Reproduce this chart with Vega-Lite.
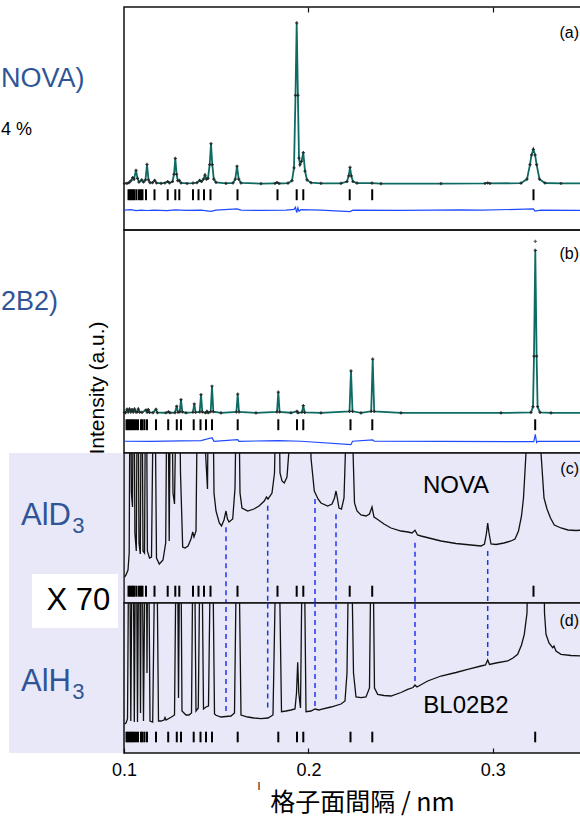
{
  "$schema": "https://vega.github.io/schema/vega-lite/v6.json",
  "padding": {"left": 0, "top": 5, "right": 0, "bottom": 0},
  "spacing": 0,
  "bounds": "flush",
  "config": {
    "view": {"stroke": "#111111", "strokeWidth": 1.5},
    "text": {"font": "Liberation Sans"},
    "scale": {"zero": false},
    "axisX": {"tickSize": -5, "tickWidth": 1.2, "tickColor": "#111111", "domain": false, "grid": false, "labelFlush": false, "labelFont": "Liberation Sans", "labelFontSize": 18, "labelColor": "#000000", "labelPadding": 13, "titleFont": "Noto Sans CJK JP", "titleFontSize": 25, "titleFontWeight": "normal", "titleColor": "#000000"}
  },
  "resolve": {"scale": {"x": "independent", "y": "independent"}},
  "datasets": {
    "ticksD": [{"d":0.10244},{"d":0.10325},{"d":0.10407},{"d":0.10488},{"d":0.10569},{"d":0.10678},{"d":0.10813},{"d":0.10922},{"d":0.11003},{"d":0.11193},{"d":0.11654},{"d":0.1237},{"d":0.12782},{"d":0.12999},{"d":0.13742},{"d":0.1404},{"d":0.14338},{"d":0.14691},{"d":0.16155},{"d":0.18324},{"d":0.19365},{"d":0.19723},{"d":0.2224},{"d":0.2346},{"d":0.32207}],
    "ticksH": [{"d":0.10136},{"d":0.10217},{"d":0.10298},{"d":0.1038},{"d":0.10461},{"d":0.10542},{"d":0.10651},{"d":0.10759},{"d":0.10922},{"d":0.11003},{"d":0.11112},{"d":0.11247},{"d":0.11735},{"d":0.12397},{"d":0.12863},{"d":0.13091},{"d":0.1378},{"d":0.14149},{"d":0.14447},{"d":0.14772},{"d":0.16166},{"d":0.18368},{"d":0.19382},{"d":0.19723},{"d":0.22283},{"d":0.23465},{"d":0.32299}],
    "a": [{"d":0.10027,"v":0.3},{"d":0.10163,"v":0.4},{"d":0.10271,"v":0.8},{"d":0.1038,"v":2},{"d":0.10472,"v":4},{"d":0.10542,"v":3},{"d":0.10651,"v":8.5},{"d":0.10732,"v":3.5},{"d":0.10813,"v":1.2},{"d":0.1096,"v":2.5},{"d":0.11057,"v":1.2},{"d":0.11166,"v":2.5},{"d":0.11247,"v":12.2},{"d":0.11329,"v":2.5},{"d":0.1141,"v":0.8},{"d":0.11546,"v":0.8},{"d":0.11665,"v":2.2},{"d":0.11762,"v":0.6},{"d":0.12007,"v":0.4},{"d":0.12223,"v":0.6},{"d":0.1237,"v":1.5},{"d":0.12467,"v":0.6},{"d":0.1263,"v":1.5},{"d":0.12712,"v":6},{"d":0.12782,"v":15.9},{"d":0.12852,"v":6},{"d":0.12918,"v":2},{"d":0.12999,"v":2.2},{"d":0.13091,"v":0.6},{"d":0.13416,"v":0.3},{"d":0.13742,"v":0.5},{"d":0.13959,"v":0.8},{"d":0.14105,"v":2.2},{"d":0.14203,"v":1.5},{"d":0.14311,"v":3},{"d":0.14393,"v":5.5},{"d":0.14474,"v":3},{"d":0.14555,"v":3.5},{"d":0.14647,"v":12},{"d":0.14718,"v":25},{"d":0.14788,"v":12},{"d":0.1487,"v":3},{"d":0.14989,"v":1},{"d":0.15531,"v":0.4},{"d":0.15911,"v":0.6},{"d":0.16036,"v":3},{"d":0.16128,"v":11},{"d":0.1622,"v":3},{"d":0.16345,"v":0.6},{"d":0.17429,"v":0.2},{"d":0.18189,"v":0.3},{"d":0.18297,"v":0.9},{"d":0.18406,"v":0.3},{"d":0.18894,"v":0.5},{"d":0.19111,"v":2},{"d":0.19219,"v":10},{"d":0.193,"v":55},{"d":0.19365,"v":100},{"d":0.19431,"v":55},{"d":0.1949,"v":16},{"d":0.19544,"v":12},{"d":0.19626,"v":14},{"d":0.19723,"v":19.5},{"d":0.19816,"v":8},{"d":0.19924,"v":2.5},{"d":0.20141,"v":0.8},{"d":0.20683,"v":0.4},{"d":0.21768,"v":0.4},{"d":0.22093,"v":1.5},{"d":0.22185,"v":5},{"d":0.22256,"v":10.3},{"d":0.22327,"v":5},{"d":0.22419,"v":1.5},{"d":0.22636,"v":0.5},{"d":0.23449,"v":0.5},{"d":0.23937,"v":0.2},{"d":0.27191,"v":0.2},{"d":0.29577,"v":0.3},{"d":0.29723,"v":0.6},{"d":0.29848,"v":0.3},{"d":0.31529,"v":0.5},{"d":0.31855,"v":3},{"d":0.32017,"v":12},{"d":0.32099,"v":18},{"d":0.32197,"v":21.5},{"d":0.32294,"v":18},{"d":0.32376,"v":12},{"d":0.32533,"v":3},{"d":0.32831,"v":0.6},{"d":0.33698,"v":0.3},{"d":0.34946,"v":0.3}],
    "ares": [{"d":0.10027,"v":-16.3},{"d":0.1038,"v":-16.0},{"d":0.10651,"v":-16.6},{"d":0.10922,"v":-16.2},{"d":0.11247,"v":-16.5},{"d":0.11627,"v":-16.3},{"d":0.12332,"v":-16.6},{"d":0.12766,"v":-16.1},{"d":0.13362,"v":-16.4},{"d":0.14176,"v":-16.3},{"d":0.14718,"v":-17.0},{"d":0.14989,"v":-16.3},{"d":0.16128,"v":-15.5},{"d":0.16345,"v":-16.3},{"d":0.17429,"v":-16.4},{"d":0.18785,"v":-16.3},{"d":0.19219,"v":-15.8},{"d":0.193,"v":-14.5},{"d":0.19365,"v":-17.8},{"d":0.19431,"v":-14.8},{"d":0.1949,"v":-17},{"d":0.19599,"v":-16},{"d":0.20683,"v":-16.3},{"d":0.22256,"v":-17.2},{"d":0.22419,"v":-16.3},{"d":0.25022,"v":-16.4},{"d":0.28275,"v":-16.1},{"d":0.2936,"v":-16.3},{"d":0.32197,"v":-15.5},{"d":0.32294,"v":-16.8},{"d":0.32614,"v":-16.3},{"d":0.34946,"v":-16.4}],
    "b": [{"d":0.10027,"v":0.5},{"d":0.10081,"v":0.4},{"d":0.10163,"v":2.4},{"d":0.10228,"v":0.8},{"d":0.10298,"v":2.6},{"d":0.10369,"v":0.8},{"d":0.10434,"v":2.2},{"d":0.10499,"v":0.8},{"d":0.10569,"v":2.6},{"d":0.1064,"v":0.8},{"d":0.10705,"v":0.7},{"d":0.10775,"v":2.6},{"d":0.10846,"v":0.7},{"d":0.10976,"v":0.5},{"d":0.11193,"v":2.0},{"d":0.11253,"v":0.7},{"d":0.11318,"v":2.2},{"d":0.11383,"v":0.5},{"d":0.11573,"v":0.4},{"d":0.11735,"v":2.4},{"d":0.11806,"v":0.4},{"d":0.12278,"v":0.3},{"d":0.12413,"v":0.9},{"d":0.12495,"v":0.3},{"d":0.12766,"v":0.4},{"d":0.12858,"v":4.3},{"d":0.12928,"v":0.6},{"d":0.13021,"v":0.8},{"d":0.13091,"v":8.4},{"d":0.13162,"v":0.8},{"d":0.13362,"v":0.3},{"d":0.13736,"v":0.6},{"d":0.13812,"v":5.7},{"d":0.13883,"v":0.6},{"d":0.14105,"v":0.8},{"d":0.14176,"v":11.5},{"d":0.14246,"v":0.8},{"d":0.1442,"v":0.3},{"d":0.14501,"v":1.2},{"d":0.14566,"v":0.3},{"d":0.14702,"v":1},{"d":0.14772,"v":16.6},{"d":0.14843,"v":1},{"d":0.1526,"v":0.2},{"d":0.16095,"v":0.8},{"d":0.16166,"v":11.8},{"d":0.16236,"v":0.8},{"d":0.17158,"v":0.2},{"d":0.18297,"v":0.8},{"d":0.18368,"v":13},{"d":0.18438,"v":0.8},{"d":0.19056,"v":0.3},{"d":0.19382,"v":1.2},{"d":0.19436,"v":0.3},{"d":0.19653,"v":0.6},{"d":0.19723,"v":4.7},{"d":0.19794,"v":0.5},{"d":0.20683,"v":0.2},{"d":0.22229,"v":1.2},{"d":0.2231,"v":26},{"d":0.22392,"v":1.2},{"d":0.22852,"v":0.2},{"d":0.23406,"v":1.2},{"d":0.23487,"v":33.3},{"d":0.23568,"v":1.2},{"d":0.25022,"v":0.2},{"d":0.30445,"v":0.2},{"d":0.32072,"v":0.5},{"d":0.3218,"v":4},{"d":0.32234,"v":35},{"d":0.32305,"v":100},{"d":0.32376,"v":35},{"d":0.3243,"v":4},{"d":0.3256,"v":0.5},{"d":0.33156,"v":0.2},{"d":0.34946,"v":0.2}],
    "bobs": [{"d":0.32305,"v":105.5}],
    "bres": [{"d":0.10027,"v":-17.2},{"d":0.11464,"v":-17.3},{"d":0.13091,"v":-17.0},{"d":0.14176,"v":-16.8},{"d":0.14772,"v":-15.0},{"d":0.14881,"v":-17.2},{"d":0.16166,"v":-16.2},{"d":0.16236,"v":-17.2},{"d":0.18368,"v":-16.8},{"d":0.19599,"v":-17.2},{"d":0.2231,"v":-19.3},{"d":0.22392,"v":-17.2},{"d":0.23487,"v":-16.3},{"d":0.23568,"v":-17.2},{"d":0.27191,"v":-17.3},{"d":0.32224,"v":-17.4},{"d":0.32305,"v":-13},{"d":0.32376,"v":-18},{"d":0.32451,"v":-17.2},{"d":0.34946,"v":-17.3}],
    "c": [{"d":0.10027,"v":26},{"d":0.10108,"v":28},{"d":0.10217,"v":33},{"d":0.10282,"v":50},{"d":0.10342,"v":300},{"d":0.10401,"v":110},{"d":0.10461,"v":96},{"d":0.10526,"v":300},{"d":0.10591,"v":70},{"d":0.10667,"v":52},{"d":0.10743,"v":300},{"d":0.10813,"v":60},{"d":0.10884,"v":49},{"d":0.1096,"v":300},{"d":0.1103,"v":52},{"d":0.11112,"v":50},{"d":0.11193,"v":300},{"d":0.11269,"v":52},{"d":0.11383,"v":45},{"d":0.11491,"v":46},{"d":0.11643,"v":300},{"d":0.11762,"v":45},{"d":0.11914,"v":39},{"d":0.12115,"v":43},{"d":0.12261,"v":60},{"d":0.12359,"v":300},{"d":0.12451,"v":62},{"d":0.12549,"v":300},{"d":0.12657,"v":110},{"d":0.12739,"v":99},{"d":0.1282,"v":200},{"d":0.12956,"v":300},{"d":0.13064,"v":130},{"d":0.13183,"v":56},{"d":0.13308,"v":55},{"d":0.13471,"v":57},{"d":0.13633,"v":64},{"d":0.13726,"v":71},{"d":0.13796,"v":66},{"d":0.13905,"v":72},{"d":0.14029,"v":300},{"d":0.14105,"v":150},{"d":0.14187,"v":300},{"d":0.14393,"v":160},{"d":0.14528,"v":114},{"d":0.1461,"v":300},{"d":0.14772,"v":300},{"d":0.14881,"v":110},{"d":0.14989,"v":92},{"d":0.15168,"v":80},{"d":0.15287,"v":77},{"d":0.15423,"v":83},{"d":0.15531,"v":92},{"d":0.15613,"v":84},{"d":0.15694,"v":81},{"d":0.15895,"v":84},{"d":0.1602,"v":115},{"d":0.16166,"v":300},{"d":0.16291,"v":110},{"d":0.16399,"v":95},{"d":0.16708,"v":92},{"d":0.1705,"v":94},{"d":0.17321,"v":97},{"d":0.17608,"v":102},{"d":0.17728,"v":106},{"d":0.17809,"v":104},{"d":0.18026,"v":110},{"d":0.18162,"v":130},{"d":0.18335,"v":300},{"d":0.1846,"v":130},{"d":0.18568,"v":122},{"d":0.18693,"v":120},{"d":0.18839,"v":126},{"d":0.18975,"v":160},{"d":0.19111,"v":300},{"d":0.20033,"v":300},{"d":0.20141,"v":145},{"d":0.2032,"v":112},{"d":0.20521,"v":104},{"d":0.20683,"v":100},{"d":0.21047,"v":97},{"d":0.2128,"v":99},{"d":0.21415,"v":105},{"d":0.21497,"v":112},{"d":0.21578,"v":104},{"d":0.21659,"v":95},{"d":0.21795,"v":94},{"d":0.21931,"v":105},{"d":0.22039,"v":170},{"d":0.22229,"v":300},{"d":0.22392,"v":170},{"d":0.225,"v":100},{"d":0.22636,"v":92},{"d":0.22852,"v":88},{"d":0.23124,"v":87},{"d":0.23313,"v":89},{"d":0.23449,"v":96},{"d":0.23557,"v":86},{"d":0.2372,"v":84},{"d":0.241,"v":79},{"d":0.24479,"v":75},{"d":0.25022,"v":72},{"d":0.25401,"v":71},{"d":0.25618,"v":70},{"d":0.25781,"v":72.7},{"d":0.25916,"v":68},{"d":0.26106,"v":67},{"d":0.26649,"v":64.5},{"d":0.27191,"v":62},{"d":0.28004,"v":59.5},{"d":0.28818,"v":58},{"d":0.2936,"v":57},{"d":0.2955,"v":59},{"d":0.29658,"v":70},{"d":0.29723,"v":80},{"d":0.29794,"v":70},{"d":0.29902,"v":59},{"d":0.30174,"v":58.5},{"d":0.30607,"v":60},{"d":0.30987,"v":62},{"d":0.31204,"v":64},{"d":0.31394,"v":72},{"d":0.31557,"v":87},{"d":0.31665,"v":105},{"d":0.318,"v":150},{"d":0.31963,"v":300},{"d":0.32424,"v":300},{"d":0.32614,"v":150},{"d":0.32777,"v":105},{"d":0.32939,"v":94},{"d":0.33129,"v":85},{"d":0.33335,"v":78},{"d":0.33698,"v":75},{"d":0.34078,"v":73},{"d":0.34512,"v":72.5},{"d":0.34946,"v":73}],
    "dcurve": [{"d":0.10027,"v":29},{"d":0.10108,"v":30},{"d":0.1019,"v":34},{"d":0.10287,"v":300},{"d":0.10369,"v":32},{"d":0.10472,"v":300},{"d":0.10559,"v":31},{"d":0.10651,"v":300},{"d":0.10732,"v":31},{"d":0.1083,"v":300},{"d":0.10895,"v":40},{"d":0.1096,"v":300},{"d":0.11057,"v":32},{"d":0.11193,"v":300},{"d":0.11247,"v":80},{"d":0.11302,"v":300},{"d":0.1141,"v":32},{"d":0.11556,"v":31},{"d":0.11735,"v":300},{"d":0.11871,"v":32},{"d":0.12007,"v":32},{"d":0.12169,"v":33},{"d":0.12223,"v":35.5},{"d":0.12278,"v":33},{"d":0.12549,"v":35.7},{"d":0.12739,"v":38},{"d":0.12874,"v":300},{"d":0.12956,"v":55},{"d":0.13053,"v":300},{"d":0.13145,"v":42},{"d":0.13362,"v":38},{"d":0.13525,"v":38},{"d":0.13661,"v":40},{"d":0.1378,"v":300},{"d":0.13905,"v":42},{"d":0.14029,"v":45},{"d":0.14176,"v":300},{"d":0.14311,"v":44},{"d":0.14447,"v":46},{"d":0.14582,"v":47},{"d":0.14756,"v":300},{"d":0.14908,"v":39},{"d":0.14989,"v":37.7},{"d":0.1526,"v":36},{"d":0.15531,"v":36.5},{"d":0.15803,"v":37},{"d":0.15992,"v":40},{"d":0.16166,"v":300},{"d":0.16345,"v":38},{"d":0.16708,"v":36},{"d":0.1705,"v":35},{"d":0.17429,"v":34.3},{"d":0.17809,"v":35},{"d":0.1808,"v":38},{"d":0.18335,"v":300},{"d":0.18541,"v":41.3},{"d":0.18785,"v":42},{"d":0.19056,"v":43},{"d":0.19273,"v":44},{"d":0.19355,"v":60},{"d":0.1942,"v":90.7},{"d":0.19479,"v":60},{"d":0.19571,"v":45},{"d":0.19723,"v":300},{"d":0.1987,"v":41.3},{"d":0.20141,"v":42},{"d":0.20358,"v":44},{"d":0.20575,"v":43},{"d":0.20683,"v":43.7},{"d":0.21226,"v":46},{"d":0.21768,"v":49},{"d":0.21985,"v":52},{"d":0.22093,"v":80},{"d":0.22256,"v":300},{"d":0.22446,"v":80},{"d":0.22581,"v":56},{"d":0.22852,"v":55.3},{"d":0.23124,"v":56},{"d":0.23313,"v":65},{"d":0.23449,"v":300},{"d":0.23584,"v":65},{"d":0.23758,"v":58.7},{"d":0.241,"v":57.5},{"d":0.24479,"v":57},{"d":0.25022,"v":60.5},{"d":0.25385,"v":63.7},{"d":0.25672,"v":65.5},{"d":0.25781,"v":68},{"d":0.25889,"v":66},{"d":0.2647,"v":72},{"d":0.27191,"v":77},{"d":0.28004,"v":80.5},{"d":0.28639,"v":83.7},{"d":0.2936,"v":87},{"d":0.29604,"v":88},{"d":0.29723,"v":93},{"d":0.29821,"v":88.5},{"d":0.30174,"v":90},{"d":0.30808,"v":92},{"d":0.31095,"v":95},{"d":0.3135,"v":98.7},{"d":0.31557,"v":108},{"d":0.31708,"v":118.7},{"d":0.31855,"v":140},{"d":0.31979,"v":300},{"d":0.32706,"v":300},{"d":0.32804,"v":140},{"d":0.32885,"v":118.7},{"d":0.33048,"v":110},{"d":0.33248,"v":105.3},{"d":0.33319,"v":107},{"d":0.33427,"v":102},{"d":0.33698,"v":98.7},{"d":0.34241,"v":97.5},{"d":0.34946,"v":97}],
    "dash": [{"d":0.15531,"ct":75.7,"db":42},{"d":0.17793,"ct":97.3,"db":45.5},{"d":0.20358,"ct":104,"db":47},{"d":0.21497,"ct":88.7,"db":53.7},{"d":0.25781,"ct":60.3,"db":72},{"d":0.29723,"ct":52,"db":97}]
  },
  "vconcat": [
    {
      "width": 460, "height": 223,
      "layer": [
        {"data": {"name": "ticksD"}, "mark": {"type": "rule", "color": "#000000", "strokeWidth": 2},
         "encoding": {"x": {"field": "d", "type": "quantitative", "scale": {"domain": [0.1, 0.34946], "nice": false}, "axis": {"orient": "top", "values": [0.2, 0.3], "labels": false, "title": null}},
                      "y": {"datum": -3.3, "scale": {"domain": [-28.6, 109.9], "nice": false}, "axis": null}, "y2": {"datum": -10.1}}},
        {"data": {"name": "ares"}, "mark": {"type": "line", "color": "#1f4bff", "strokeWidth": 1.2},
         "encoding": {"x": {"field": "d", "type": "quantitative", "scale": {"domain": [0.1, 0.34946], "nice": false}, "axis": {"orient": "top", "values": [0.2, 0.3], "labels": false, "title": null}}, "y": {"field": "v", "type": "quantitative", "scale": {"domain": [-28.6, 109.9], "nice": false}, "axis": null}}},
        {"data": {"name": "a"}, "mark": {"type": "line", "color": "#0d6b63", "strokeWidth": 1.8},
         "encoding": {"x": {"field": "d", "type": "quantitative", "scale": {"domain": [0.1, 0.34946], "nice": false}, "axis": {"orient": "top", "values": [0.2, 0.3], "labels": false, "title": null}}, "y": {"field": "v", "type": "quantitative", "scale": {"domain": [-28.6, 109.9], "nice": false}, "axis": null}}},
        {"data": {"name": "a"}, "mark": {"type": "point", "shape": "cross", "filled": true, "size": 10, "color": "#222222", "opacity": 0.9},
         "encoding": {"x": {"field": "d", "type": "quantitative", "scale": {"domain": [0.1, 0.34946], "nice": false}, "axis": {"orient": "top", "values": [0.2, 0.3], "labels": false, "title": null}}, "y": {"field": "v", "type": "quantitative", "scale": {"domain": [-28.6, 109.9], "nice": false}, "axis": null}}},
        {"data": {"values": [{}]}, "mark": {"type": "text", "text": "NOVA)", "align": "left", "baseline": "middle", "fontSize": 27, "color": "#2f5597"},
         "encoding": {"x": {"datum": 0.0333, "axis": {"orient": "top", "values": [0.2, 0.3], "labels": false, "title": null}}, "y": {"datum": 65.2, "axis": null}}},
        {"data": {"values": [{}]}, "mark": {"type": "text", "text": "4 %", "align": "left", "baseline": "middle", "fontSize": 18, "color": "#000000"},
         "encoding": {"x": {"datum": 0.0333, "axis": {"orient": "top", "values": [0.2, 0.3], "labels": false, "title": null}}, "y": {"datum": 33.5, "axis": null}}},
        {"data": {"values": [{}]}, "mark": {"type": "text", "text": "(a)", "align": "right", "baseline": "middle", "fontSize": 16, "color": "#000000"},
         "encoding": {"x": {"datum": 0.34675, "axis": {"orient": "top", "values": [0.2, 0.3], "labels": false, "title": null}}, "y": {"datum": 93.8, "axis": null}}}
      ]
    },
    {
      "width": 460, "height": 223,
      "layer": [
        {"data": {"name": "ticksH"}, "mark": {"type": "rule", "color": "#000000", "strokeWidth": 2},
         "encoding": {"x": {"field": "d", "type": "quantitative", "scale": {"domain": [0.1, 0.34946], "nice": false}, "axis": null},
                      "y": {"datum": -3.7, "scale": {"domain": [-24.4, 112.5], "nice": false}, "axis": null}, "y2": {"datum": -10.4}}},
        {"data": {"name": "bres"}, "mark": {"type": "line", "color": "#1f4bff", "strokeWidth": 1.2},
         "encoding": {"x": {"field": "d", "type": "quantitative", "scale": {"domain": [0.1, 0.34946], "nice": false}, "axis": null}, "y": {"field": "v", "type": "quantitative", "scale": {"domain": [-24.4, 112.5], "nice": false}, "axis": null}}},
        {"data": {"name": "b"}, "mark": {"type": "line", "color": "#0d6b63", "strokeWidth": 1.8},
         "encoding": {"x": {"field": "d", "type": "quantitative", "scale": {"domain": [0.1, 0.34946], "nice": false}, "axis": null}, "y": {"field": "v", "type": "quantitative", "scale": {"domain": [-24.4, 112.5], "nice": false}, "axis": null}}},
        {"data": {"name": "b"}, "mark": {"type": "point", "shape": "cross", "filled": true, "size": 10, "color": "#222222", "opacity": 0.9},
         "encoding": {"x": {"field": "d", "type": "quantitative", "scale": {"domain": [0.1, 0.34946], "nice": false}, "axis": null}, "y": {"field": "v", "type": "quantitative", "scale": {"domain": [-24.4, 112.5], "nice": false}, "axis": null}}},
        {"data": {"name": "bobs"}, "mark": {"type": "point", "shape": "cross", "filled": true, "size": 10, "color": "#222222"},
         "encoding": {"x": {"field": "d", "type": "quantitative", "scale": {"domain": [0.1, 0.34946], "nice": false}, "axis": null}, "y": {"field": "v", "type": "quantitative", "scale": {"domain": [-24.4, 112.5], "nice": false}, "axis": null}}},
        {"data": {"values": [{}]}, "mark": {"type": "text", "text": "2B2)", "align": "left", "baseline": "middle", "fontSize": 27, "color": "#2f5597"},
         "encoding": {"x": {"datum": 0.0333, "axis": null}, "y": {"datum": 68.3, "axis": null}}},
        {"data": {"values": [{}]}, "mark": {"type": "text", "text": "(b)", "align": "right", "baseline": "middle", "fontSize": 16, "color": "#000000"},
         "encoding": {"x": {"datum": 0.34675, "axis": null}, "y": {"datum": 97.7, "axis": null}}},
        {"data": {"values": [{}]}, "mark": {"type": "text", "text": "Intensity (a.u.)", "angle": 270, "align": "center", "baseline": "middle", "fontSize": 21, "color": "#000000"},
         "encoding": {"x": {"datum": 0.0859, "axis": null}, "y": {"datum": 15.5, "axis": null}}}
      ]
    },
    {
      "width": 460, "height": 150,
      "view": {"fill": "#e8e8f8", "stroke": "#111111", "strokeWidth": 1.5},
      "layer": [
        {"data": {"values": [{}]}, "mark": {"type": "rect", "color": "#e8e8f8"},
         "encoding": {"x": {"datum": 0.03764, "scale": {"domain": [0.1, 0.34946], "nice": false}, "axis": null}, "x2": {"datum": 0.09957},
                      "y": {"datum": 150, "scale": {"domain": [0, 150], "nice": false}, "axis": null}, "y2": {"datum": -150}}},
        {"data": {"name": "ticksD"}, "mark": {"type": "rule", "color": "#000000", "strokeWidth": 2},
         "encoding": {"x": {"field": "d", "type": "quantitative", "scale": {"domain": [0.1, 0.34946], "nice": false}, "axis": null}, "y": {"datum": 17.3, "axis": null}, "y2": {"datum": 6.3}}},
        {"data": {"name": "dash"}, "mark": {"type": "rule", "color": "#2233ee", "strokeWidth": 1.5, "strokeDash": [5, 4]},
         "encoding": {"x": {"field": "d", "type": "quantitative", "scale": {"domain": [0.1, 0.34946], "nice": false}, "axis": null}, "y": {"field": "ct", "type": "quantitative", "scale": {"domain": [0, 150], "nice": false}, "axis": null}, "y2": {"datum": 0}}},
        {"data": {"name": "c"}, "mark": {"type": "line", "color": "#111111", "strokeWidth": 1.3, "clip": true},
         "encoding": {"x": {"field": "d", "type": "quantitative", "scale": {"domain": [0.1, 0.34946], "nice": false}, "axis": null}, "y": {"field": "v", "type": "quantitative", "scale": {"domain": [0, 150], "nice": false}, "axis": null}}},
        {"data": {"values": [{}]}, "mark": {"type": "text", "text": "AlD", "align": "left", "baseline": "alphabetic", "fontSize": 31, "color": "#2f5597"},
         "encoding": {"x": {"datum": 0.04414, "axis": null}, "y": {"datum": 78, "axis": null}}},
        {"data": {"values": [{}]}, "mark": {"type": "text", "text": "3", "align": "left", "baseline": "alphabetic", "fontSize": 22, "color": "#2f5597"},
         "encoding": {"x": {"datum": 0.07198, "axis": null}, "y": {"datum": 70.3, "axis": null}}},
        {"data": {"values": [{}]}, "mark": {"type": "text", "text": "NOVA", "align": "center", "baseline": "middle", "fontSize": 24, "color": "#000000"},
         "encoding": {"x": {"datum": 0.28004, "axis": null}, "y": {"datum": 117, "axis": null}}},
        {"data": {"values": [{}]}, "mark": {"type": "text", "text": "(c)", "align": "right", "baseline": "middle", "fontSize": 16, "color": "#000000"},
         "encoding": {"x": {"datum": 0.34675, "axis": null}, "y": {"datum": 134, "axis": null}}}
      ]
    },
    {
      "width": 460, "height": 150,
      "view": {"fill": "#e8e8f8", "stroke": "#111111", "strokeWidth": 1.5},
      "layer": [
        {"data": {"values": [{}]}, "mark": {"type": "rect", "color": "#ffffff"},
         "encoding": {"x": {"datum": 0.05011, "scale": {"domain": [0.1, 0.34946], "nice": false}, "axis": {"values": [0.1, 0.2, 0.3], "format": ".1f", "title": "格子面間隔 / nm", "titleX": 238, "titleY": 49, "titleAlign": "center", "titleBaseline": "middle"}}, "x2": {"datum": 0.09675},
                      "y": {"datum": 179, "scale": {"domain": [0, 150], "nice": false}, "axis": null}, "y2": {"datum": 125}}},
        {"data": {"values": [{}]}, "mark": {"type": "text", "text": "X 70", "align": "center", "baseline": "middle", "fontSize": 31, "color": "#000000"},
         "encoding": {"x": {"datum": 0.0753, "axis": {"values": [0.1, 0.2, 0.3], "format": ".1f", "title": "格子面間隔 / nm", "titleX": 238, "titleY": 49, "titleAlign": "center", "titleBaseline": "middle"}}, "y": {"datum": 152, "axis": null}}},
        {"data": {"name": "ticksH"}, "mark": {"type": "rule", "color": "#000000", "strokeWidth": 2},
         "encoding": {"x": {"field": "d", "type": "quantitative", "scale": {"domain": [0.1, 0.34946], "nice": false}, "axis": {"values": [0.1, 0.2, 0.3], "format": ".1f", "title": "格子面間隔 / nm", "titleX": 238, "titleY": 49, "titleAlign": "center", "titleBaseline": "middle"}},
                      "y": {"datum": 21.3, "axis": null}, "y2": {"datum": 10.7}}},
        {"data": {"name": "dash"}, "mark": {"type": "rule", "color": "#2233ee", "strokeWidth": 1.5, "strokeDash": [5, 4]},
         "encoding": {"x": {"field": "d", "type": "quantitative", "scale": {"domain": [0.1, 0.34946], "nice": false}, "axis": {"values": [0.1, 0.2, 0.3], "format": ".1f", "title": "格子面間隔 / nm", "titleX": 238, "titleY": 49, "titleAlign": "center", "titleBaseline": "middle"}}, "y": {"field": "db", "type": "quantitative", "scale": {"domain": [0, 150], "nice": false}, "axis": null}, "y2": {"datum": 150}}},
        {"data": {"name": "dcurve"}, "mark": {"type": "line", "color": "#111111", "strokeWidth": 1.3, "clip": true},
         "encoding": {"x": {"field": "d", "type": "quantitative", "scale": {"domain": [0.1, 0.34946], "nice": false}, "axis": {"values": [0.1, 0.2, 0.3], "format": ".1f", "title": "格子面間隔 / nm", "titleX": 238, "titleY": 49, "titleAlign": "center", "titleBaseline": "middle"}}, "y": {"field": "v", "type": "quantitative", "scale": {"domain": [0, 150], "nice": false}, "axis": null}}},
        {"data": {"values": [{}]}, "mark": {"type": "text", "text": "AlH", "align": "left", "baseline": "alphabetic", "fontSize": 31, "color": "#2f5597"},
         "encoding": {"x": {"datum": 0.04414, "axis": {"values": [0.1, 0.2, 0.3], "format": ".1f", "title": "格子面間隔 / nm", "titleX": 238, "titleY": 49, "titleAlign": "center", "titleBaseline": "middle"}}, "y": {"datum": 62, "axis": null}}},
        {"data": {"values": [{}]}, "mark": {"type": "text", "text": "3", "align": "left", "baseline": "alphabetic", "fontSize": 22, "color": "#2f5597"},
         "encoding": {"x": {"datum": 0.07198, "axis": {"values": [0.1, 0.2, 0.3], "format": ".1f", "title": "格子面間隔 / nm", "titleX": 238, "titleY": 49, "titleAlign": "center", "titleBaseline": "middle"}}, "y": {"datum": 53.7, "axis": null}}},
        {"data": {"values": [{}]}, "mark": {"type": "text", "text": "BL02B2", "align": "center", "baseline": "middle", "fontSize": 24, "color": "#000000"},
         "encoding": {"x": {"datum": 0.28547, "axis": {"values": [0.1, 0.2, 0.3], "format": ".1f", "title": "格子面間隔 / nm", "titleX": 238, "titleY": 49, "titleAlign": "center", "titleBaseline": "middle"}}, "y": {"datum": 47, "axis": null}}},
        {"data": {"values": [{}]}, "mark": {"type": "text", "text": "(d)", "align": "right", "baseline": "middle", "fontSize": 16, "color": "#000000"},
         "encoding": {"x": {"datum": 0.34675, "axis": {"values": [0.1, 0.2, 0.3], "format": ".1f", "title": "格子面間隔 / nm", "titleX": 238, "titleY": 49, "titleAlign": "center", "titleBaseline": "middle"}}, "y": {"datum": 132, "axis": null}}},
        {"data": {"values": [{}]}, "mark": {"type": "text", "text": "l", "align": "center", "baseline": "middle", "fontSize": 11, "fill": "#000000"},
         "encoding": {"x": {"datum": 0.17321, "axis": {"values": [0.1, 0.2, 0.3], "format": ".1f", "title": "格子面間隔 / nm", "titleX": 238, "titleY": 49, "titleAlign": "center", "titleBaseline": "middle"}}, "y": {"datum": -34, "axis": null}}}
      ]
    }
  ]
}
